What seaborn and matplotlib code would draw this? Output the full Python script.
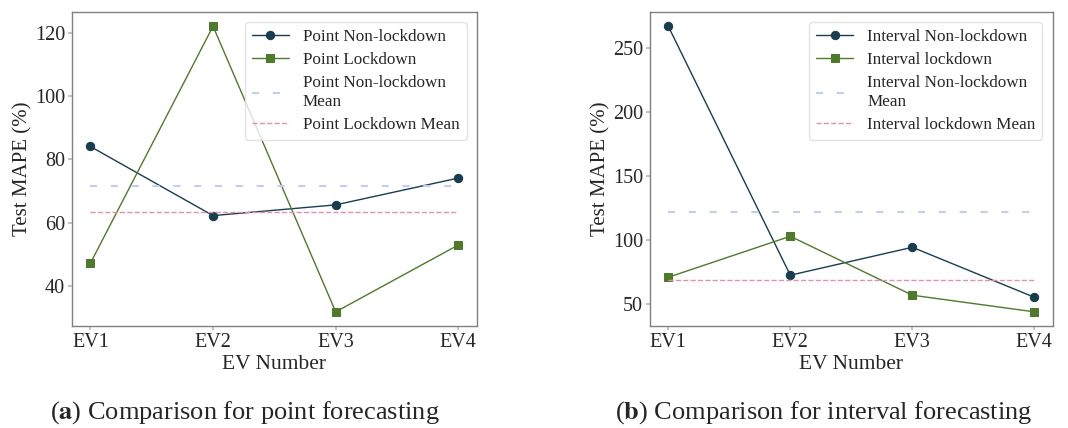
import numpy as np
import pandas as pd
import seaborn as sns
import matplotlib.pyplot as plt

# values
evs = ["EV1", "EV2", "EV3", "EV4"]
point_nonlock = [84.1, 62.2, 65.6, 74.1]
point_lock = [47.1, 122.2, 31.7, 52.9]
interval_nonlock = [266.7, 72.4, 94.2, 55.2]
interval_lock = [70.8, 102.8, 56.8, 43.8]

c_non = "#173d4f"
c_lock = "#4f7a2b"
c_non_mean = "#c3ccf5"
c_lock_mean = "#e293aa"

sns.set_theme(style="ticks")
plt.rcParams["font.family"] = ["Liberation Serif", "DejaVu Serif"]
plt.rcParams["mathtext.fontset"] = "stix"

fig = plt.figure(figsize=(10.68, 4.28), dpi=100)
ax1 = fig.add_axes([0.0674, 0.238, 0.379, 0.734])
ax2 = fig.add_axes([0.6086, 0.238, 0.377, 0.734])


def panel(ax, non, lock, names):
    df = pd.DataFrame({"ev": evs, "non": non, "lock": lock})
    sns.lineplot(data=df, x="ev", y="non", ax=ax, color=c_non, marker="o",
                 markersize=6, lw=1, markeredgecolor=c_non, label=names[0])
    sns.lineplot(data=df, x="ev", y="lock", ax=ax, color=c_lock, marker="s",
                 markersize=6, lw=1, markeredgecolor=c_lock, label=names[1])
    ax.plot(evs, [np.mean(non)] * len(evs), color=c_non_mean, lw=1.5,
            linestyle=(0, (3.4, 6.6)), label=names[2])
    ax.plot(evs, [np.mean(lock)] * len(evs), color=c_lock_mean, lw=1,
            linestyle="--", label=names[3])
    ax.set_xlabel("EV Number", fontsize=15.5, labelpad=2)
    ax.set_ylabel("Test MAPE (%)", fontsize=15, labelpad=1.5)
    ax.tick_params(labelsize=14.5, length=3, color="#bbbbbb", pad=2)
    for s in ax.spines.values():
        s.set_color("#808080")
        s.set_linewidth(1)
    leg = ax.legend(loc="upper right", fontsize=12.3, frameon=True,
                    borderaxespad=0.6, handlelength=2.2, labelspacing=0.42)
    leg.get_frame().set_edgecolor("#dddddd")


panel(ax1, point_nonlock, point_lock,
      ["Point Non-lockdown", "Point Lockdown",
       "Point Non-lockdown\nMean", "Point Lockdown Mean"])
panel(ax2, interval_nonlock, interval_lock,
      ["Interval Non-lockdown", "Interval lockdown",
       "Interval Non-lockdown\nMean", "Interval lockdown Mean"])

ax1.set_yticks([40, 60, 80, 100, 120])
ax2.set_yticks([50, 100, 150, 200, 250])

fig.text(0.229, 0.035, r"($\mathbf{a}$) Comparison for point forecasting",
         ha="center", va="center", fontsize=19)
fig.text(0.771, 0.035, r"($\mathbf{b}$) Comparison for interval forecasting",
         ha="center", va="center", fontsize=19)

fig.savefig("out.png", dpi=100)
